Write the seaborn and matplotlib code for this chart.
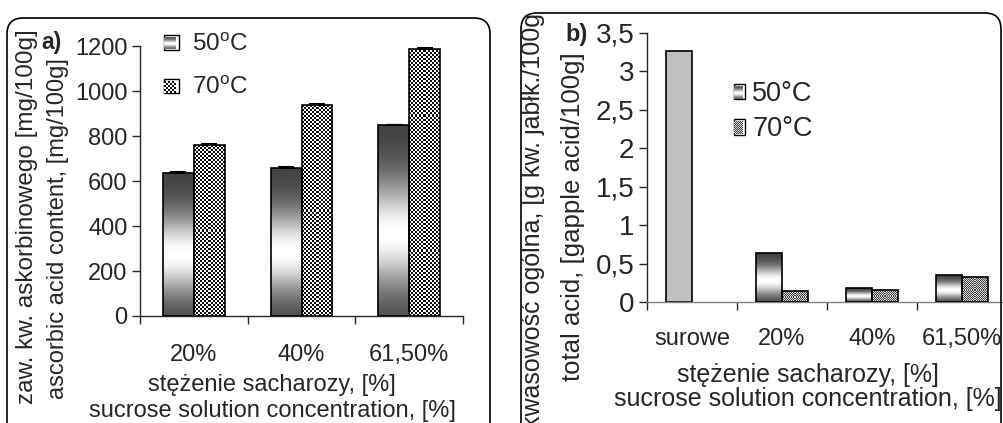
import numpy as np
import pandas as pd
import seaborn as sns
import matplotlib.pyplot as plt
from matplotlib.patches import Patch, FancyBboxPatch
from matplotlib.ticker import FuncFormatter
from matplotlib.transforms import Bbox, IdentityTransform

# panel a) ascorbic acid content [mg/100g]
conc_a = ["20%", "40%", "61,50%"]
vitc_50 = [635, 658, 847]
vitc_70 = [760, 937, 1187]
vitc_err_50 = [3, 5, 4]
vitc_err_70 = [4, 5, 5]

# panel b) total acidity [g/100g]
conc_b = ["surowe", "20%", "40%", "61,50%"]
acid_50 = [3.26, 0.64, 0.18, 0.355]
acid_70 = [np.nan, 0.14, 0.16, 0.32]

temps = ["50°C", "70°C"]

sns.set_style("ticks")
plt.rcParams["font.family"] = ["Liberation Sans", "DejaVu Sans"]
plt.rcParams["mathtext.fontset"] = "custom"
plt.rcParams["mathtext.rm"] = "Liberation Sans"
plt.rcParams["axes.linewidth"] = 1.0

W, H = 1004, 423


def px(x, y):
    # pixel position (from top-left) -> figure fraction
    return x / W, 1 - y / H


def grad_profile(n=200):
    t = np.linspace(0, 1, n)
    return (0.25 + 0.75 * np.exp(-((t - 0.57) / 0.28) ** 2))[:, None]


def checker(h, w, cell, lo, hi):
    i = np.arange(max(h // cell, 1))[:, None]
    j = np.arange(max(w // cell, 1))[None, :]
    return np.where((i + j) % 2 == 0, lo, hi)


def fill_bar(ax, bar, arr, interp):
    x0, y0 = bar.get_x(), bar.get_y()
    w, h = bar.get_width(), bar.get_height()
    im = ax.imshow(arr, extent=(x0, x0 + w, y0, y0 + h), origin="upper", aspect="auto",
                   cmap="gray", vmin=0, vmax=1, interpolation=interp, zorder=2)
    im.set_clip_path(bar)
    bar.set_facecolor("none")
    bar.set_zorder(3)


def draw_panel(ax, cats, v50, v70, ylim, yticks):
    df = pd.DataFrame({
        "conc": cats * 2,
        "temp": [temps[0]] * len(cats) + [temps[1]] * len(cats),
        "value": list(v50) + list(v70),
    }).dropna()
    sns.barplot(data=df, x="conc", y="value", hue="temp", order=cats, hue_order=temps,
                width=0.57, errorbar=None, legend=False, edgecolor="black",
                linewidth=1.2, ax=ax)
    ax.set_ylim(*ylim)
    ax.set_xlim(-0.5, len(cats) - 0.5)
    ax.set_yticks(yticks)
    return [p for c in ax.containers for p in c]


fig = plt.figure(figsize=(W / 100, H / 100), dpi=100)

# rounded frames of both panels
for x0, x1, top in [(7, 490, 18), (521, 1001, 13)]:
    box = FancyBboxPatch((x0 / 100, -0.3), (x1 - x0) / 100, (H - top) / 100 + 0.3,
                         boxstyle="round,pad=0,rounding_size=0.16",
                         transform=fig.dpi_scale_trans, facecolor="none",
                         edgecolor="black", linewidth=1.2)
    fig.add_artist(box)

# ---- panel a
axa = fig.add_axes([140 / W, 1 - 316 / H, 323 / W, 270 / H])
bars_a = draw_panel(axa, conc_a, vitc_50, vitc_70, (0, 1200), range(0, 1201, 200))
n = len(conc_a)
for k, bar in enumerate(bars_a):
    ext = bar.get_window_extent()
    if k < n:
        fill_bar(axa, bar, grad_profile(), "bilinear")
    else:
        fill_bar(axa, bar, checker(int(ext.height), int(ext.width), 2, 0.05, 1.0), "nearest")
errs = vitc_err_50 + vitc_err_70
for bar, e in zip(bars_a, errs):
    axa.errorbar(bar.get_x() + bar.get_width() / 2, bar.get_height(), yerr=[[0], [e]],
                 fmt="none", ecolor="black", capsize=6, elinewidth=1, capthick=1.5, zorder=4)
axa.set_xlim(-0.5, n - 0.5)
axa.set_ylim(0, 1200)

# ---- panel b
axb = fig.add_axes([647 / W, 1 - 302 / H, 360 / W, 269 / H])
bars_b = draw_panel(axb, conc_b, acid_50, acid_70, (0, 3.5), np.arange(0, 3.51, 0.5))
nb = len(conc_b)
for k, bar in enumerate(bars_b):
    ext = bar.get_window_extent()
    if k == 0:
        bar.set_facecolor("#c0c0c0")
    elif k < nb:
        fill_bar(axb, bar, grad_profile(), "bilinear")
    else:
        fill_bar(axb, bar, checker(int(ext.height), int(ext.width), 1, 0.25, 0.85), "nearest")
axb.set_xlim(-0.5, nb - 0.5)
axb.set_ylim(0, 3.5)
axb.yaxis.set_major_formatter(FuncFormatter(lambda v, p: f"{v:g}".replace(".", ",")))
axb.spines["bottom"].set_color("#808080")

for ax, cats, fsx, fsy, pad in [(axa, conc_a, 17, 17, 20), (axb, conc_b, 17, 20, 18.5)]:
    ax.set_xticks(np.arange(-0.5, len(cats), 1.0))
    ax.set_xticklabels([])
    ax.set_xticks(np.arange(len(cats)), minor=True)
    ax.set_xticklabels(cats, minor=True, fontsize=fsx)
    ax.tick_params(axis="x", which="minor", length=0, pad=pad)
    ax.tick_params(axis="x", which="major", length=6, width=1)
    ax.tick_params(axis="y", length=6, width=1, labelsize=fsy, pad=3)
    ax.set_ylabel("")
    ax.set_xlabel("")
    sns.despine(ax=ax)

# axis titles
xl = "stężenie sacharozy, [%]\nsucrose solution concentration, [%]"
fig.text(*px(272, 398), xl, ha="center", va="center", fontsize=17, linespacing=1.2)
fig.text(*px(808, 387), xl, ha="center", va="center", fontsize=18, linespacing=1.05)

fig.text(*px(27, 404), "zaw. kw. askorbinowego [mg/100g]", rotation=90,
         ha="center", va="bottom", fontsize=17.5)
fig.text(*px(58, 399), "ascorbic acid content, [mg/100g]", rotation=90,
         ha="center", va="bottom", fontsize=17)
t1 = fig.text(*px(533, 6), "kwasowość ogólna, [g kw. jabłk./100g]", rotation=90,
              ha="center", va="top", fontsize=18)
t1.set_clip_box(Bbox([[0, 0], [W, H - 15]]))
t1.set_clip_on(True)
t1.set_transform(t1.get_transform())
fig.text(*px(573, 381), "total acid, [gapple acid/100g]", rotation=90,
         ha="center", va="bottom", fontsize=18.5)

fig.text(*px(41, 43), "a)", fontsize=16.5, fontweight="bold", ha="left", va="center")
fig.text(*px(565, 35), "b)", fontsize=17, fontweight="bold", ha="left", va="center")

# legends
handles = [Patch(facecolor="white", edgecolor="black", linewidth=1.0),
           Patch(facecolor="white", edgecolor="black", linewidth=1.0)]
lega = axa.legend(handles, ["50$^{\\rm o}$C", "70$^{\\rm o}$C"], loc="upper left",
                  bbox_to_anchor=px(164, 33), bbox_transform=fig.transFigure,
                  frameon=False, fontsize=17.5, handlelength=0.6, handleheight=0.55,
                  handletextpad=0.55, labelspacing=0.85, borderpad=0, borderaxespad=0)
legb = axb.legend(handles, temps, loc="upper left",
                  bbox_to_anchor=px(734, 81), bbox_transform=fig.transFigure,
                  frameon=False, fontsize=19.5, handlelength=0.42, handleheight=0.5,
                  handletextpad=0.25, labelspacing=0.35, borderpad=0, borderaxespad=0)

fig.canvas.draw()
for leg, cell, lo, hi in [(lega, 2, 0.05, 1.0), (legb, 1, 0.25, 0.85)]:
    p50, p70 = leg.get_patches()
    for p, kind in [(p50, "grad"), (p70, "check")]:
        e = p.get_window_extent()
        h, w = int(e.height) - 2, int(e.width) - 2
        if kind == "grad":
            t = np.linspace(0, 1, h)
            arr = np.repeat((0.35 + 0.65 * np.exp(-((t - 0.55) / 0.3) ** 2))[:, None], w, axis=1)
        else:
            arr = checker(h, w, cell, lo, hi)
            arr = np.kron(arr, np.ones((cell, cell)))[:h, :w]
        fig.figimage(arr, xo=int(e.x0) + 1, yo=int(e.y0) + 1, origin="upper",
                     cmap="gray", vmin=0, vmax=1, zorder=10)

fig.savefig("out.png", dpi=100)
